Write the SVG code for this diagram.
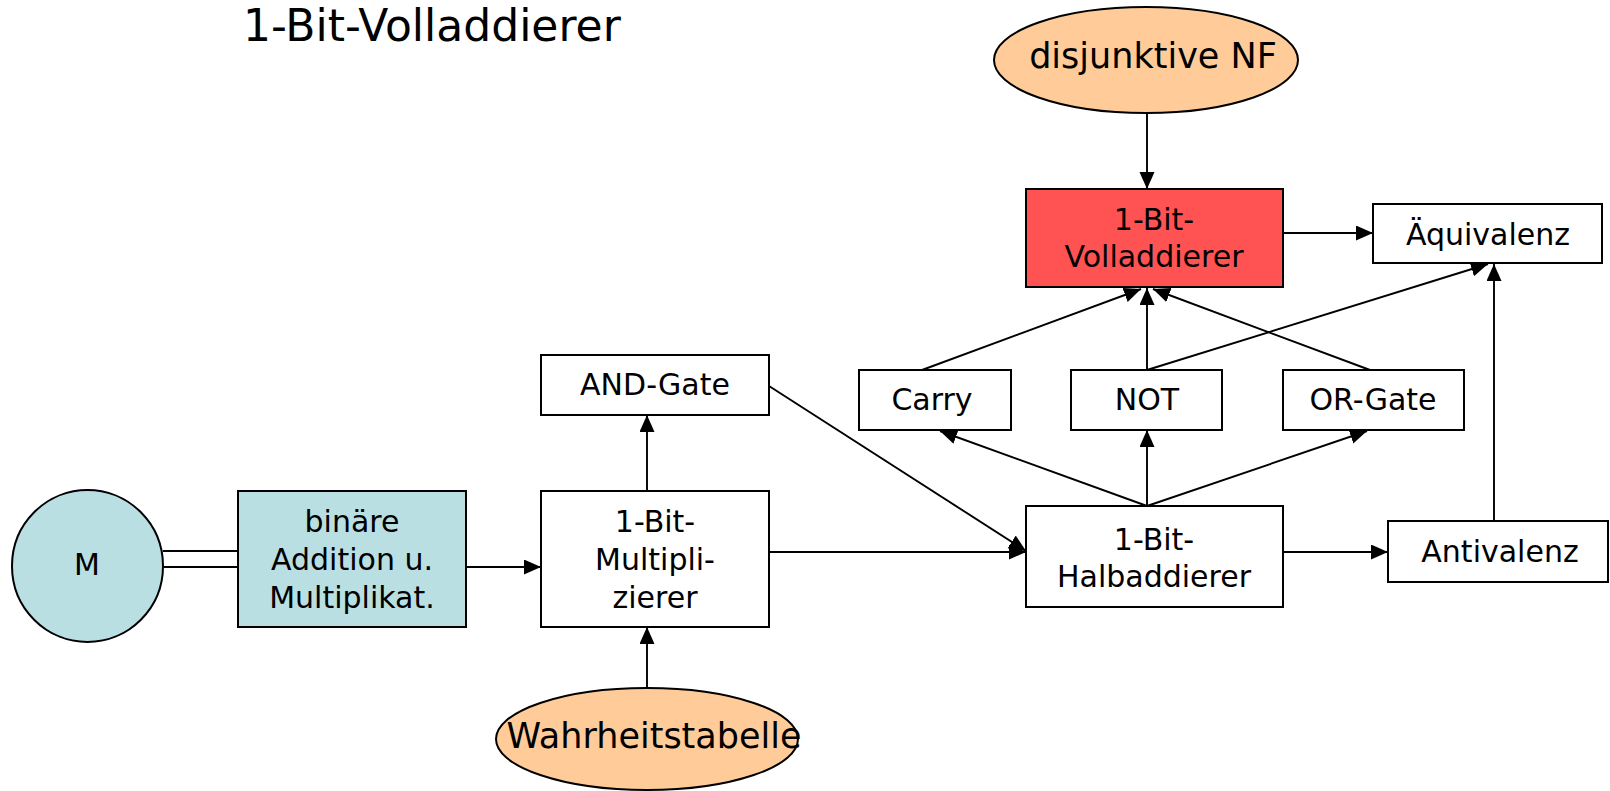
<svg xmlns="http://www.w3.org/2000/svg" width="1610" height="791" viewBox="0 0 1610 791">
  <style>
    .box { stroke: #000; stroke-width: 2; fill: #fff; }
    .red { fill: #ff5353; }
    .cyan { fill: #b9dfe3; }
    .orange { fill: #ffcc99; }
    .lbl { font-family: "DejaVu Sans", "Liberation Sans", sans-serif; font-size: 30px; fill: #000; text-anchor: middle; }
    .big { font-size: 35px; }
    .edge { stroke: #000; stroke-width: 1.9; fill: none; }
  </style>
  <defs>
    <marker id="arrow" markerUnits="userSpaceOnUse" markerWidth="18" markerHeight="16" refX="17" refY="7.5" orient="auto">
      <path d="M0,0 L17,7.5 L0,15 z" fill="#000"/>
    </marker>
  </defs>

  <rect width="1610" height="791" fill="#fff"/>

  <text x="243" y="41" font-family="DejaVu Sans, Liberation Sans, sans-serif" font-size="44">1-Bit-Volladdierer</text>

  <g id="connectors">
    <line class="edge" x1="163" y1="551" x2="238" y2="551"/>
    <line class="edge" x1="163" y1="567" x2="238" y2="567"/>
    <line class="edge" x1="466" y1="567" x2="541" y2="567" marker-end="url(#arrow)"/>
    <line class="edge" x1="647" y1="688" x2="647" y2="627" marker-end="url(#arrow)"/>
    <line class="edge" x1="647" y1="491" x2="647" y2="415" marker-end="url(#arrow)"/>
    <line class="edge" x1="769" y1="552" x2="1026" y2="552" marker-end="url(#arrow)"/>
    <line class="edge" x1="769" y1="386" x2="1026" y2="551" marker-end="url(#arrow)"/>
    <line class="edge" x1="1147" y1="506" x2="940" y2="431" marker-end="url(#arrow)"/>
    <line class="edge" x1="1147" y1="506" x2="1147" y2="430" marker-end="url(#arrow)"/>
    <line class="edge" x1="1147" y1="506" x2="1367" y2="431" marker-end="url(#arrow)"/>
    <line class="edge" x1="1283" y1="552" x2="1388" y2="552" marker-end="url(#arrow)"/>
    <line class="edge" x1="922" y1="370" x2="1141" y2="289" marker-end="url(#arrow)"/>
    <line class="edge" x1="1147" y1="370" x2="1147" y2="288" marker-end="url(#arrow)"/>
    <line class="edge" x1="1370" y1="370" x2="1153" y2="289" marker-end="url(#arrow)"/>
    <line class="edge" x1="1147" y1="370" x2="1488" y2="264" marker-end="url(#arrow)"/>
    <line class="edge" x1="1494" y1="521" x2="1494" y2="264" marker-end="url(#arrow)"/>
    <line class="edge" x1="1147" y1="113" x2="1147" y2="189" marker-end="url(#arrow)"/>
    <line class="edge" x1="1283" y1="233" x2="1373" y2="233" marker-end="url(#arrow)"/>
  </g>

  <g id="node-m">
    <ellipse class="box cyan" cx="87.5" cy="566" rx="75.5" ry="76"/>
    <text class="lbl" x="87" y="575" font-size="34">M</text>
  </g>

  <g id="node-binaer">
    <rect class="box cyan" x="238" y="491" width="228" height="136"/>
    <text class="lbl" x="352" y="532">binäre</text>
    <text class="lbl" x="352" y="570">Addition u.</text>
    <text class="lbl" x="352" y="608">Multiplikat.</text>
  </g>

  <g id="node-multiplizierer">
    <rect class="box" x="541" y="491" width="228" height="136"/>
    <text class="lbl" x="655" y="532">1-Bit-</text>
    <text class="lbl" x="655" y="570">Multipli-</text>
    <text class="lbl" x="655" y="608">zierer</text>
  </g>

  <g id="node-and">
    <rect class="box" x="541" y="355" width="228" height="60"/>
    <text class="lbl" x="655" y="395">AND-Gate</text>
  </g>

  <g id="node-wahrheitstabelle">
    <ellipse class="box orange" cx="647" cy="739" rx="151" ry="51"/>
    <text class="lbl big" x="654" y="748">Wahrheitstabelle</text>
  </g>

  <g id="node-halbaddierer">
    <rect class="box" x="1026" y="506" width="257" height="101"/>
    <text class="lbl" x="1154" y="550">1-Bit-</text>
    <text class="lbl" x="1154" y="587">Halbaddierer</text>
  </g>

  <g id="node-antivalenz">
    <rect class="box" x="1388" y="521" width="220" height="61"/>
    <text class="lbl" x="1500" y="562">Antivalenz</text>
  </g>

  <g id="node-carry">
    <rect class="box" x="859" y="370" width="152" height="60"/>
    <text class="lbl" x="932" y="410">Carry</text>
  </g>

  <g id="node-not">
    <rect class="box" x="1071" y="370" width="151" height="60"/>
    <text class="lbl" x="1147" y="410">NOT</text>
  </g>

  <g id="node-or">
    <rect class="box" x="1283" y="370" width="181" height="60"/>
    <text class="lbl" x="1373" y="410">OR-Gate</text>
  </g>

  <g id="node-volladdierer">
    <rect class="box red" x="1026" y="189" width="257" height="98"/>
    <text class="lbl" x="1154" y="230">1-Bit-</text>
    <text class="lbl" x="1154" y="267">Volladdierer</text>
  </g>

  <g id="node-aequivalenz">
    <rect class="box" x="1373" y="204" width="229" height="59"/>
    <text class="lbl" x="1488" y="245">Äquivalenz</text>
  </g>

  <g id="node-dnf">
    <ellipse class="box orange" cx="1146" cy="60" rx="152" ry="53"/>
    <text class="lbl big" x="1153" y="68">disjunktive NF</text>
  </g>
</svg>
